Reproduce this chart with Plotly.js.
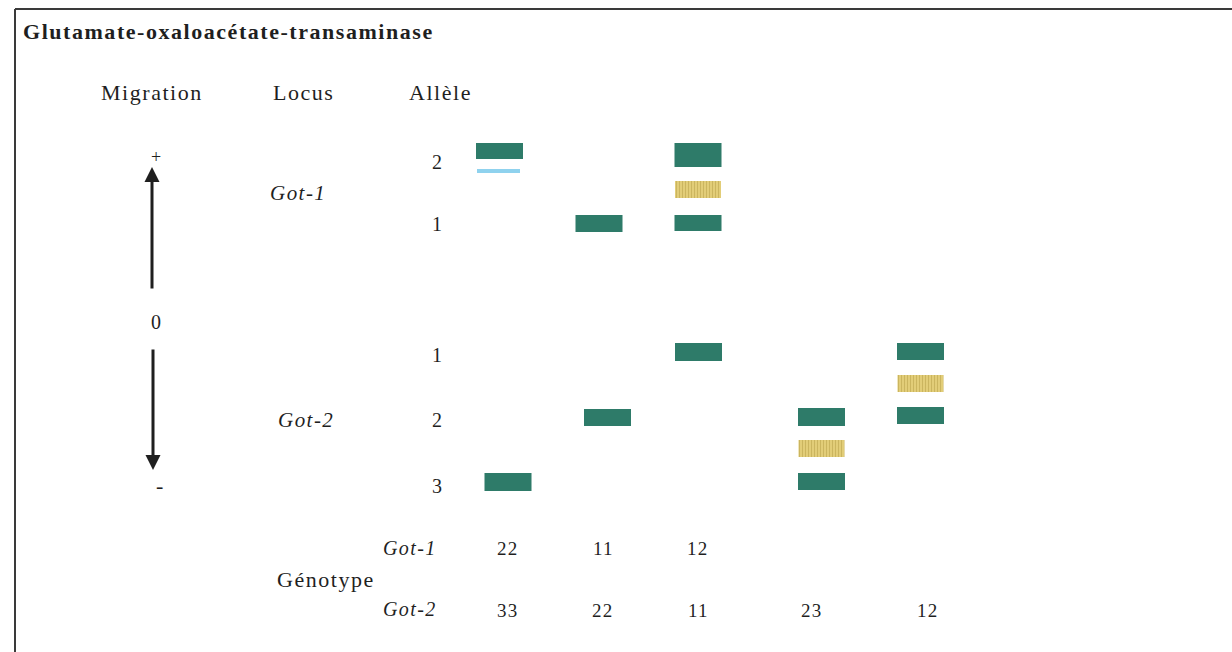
<!DOCTYPE html>
<html>
<head>
<meta charset="utf-8">
<script src="https://cdn.plot.ly/plotly-3.0.1.min.js"></script>
<style>
  html, body { margin: 0; padding: 0; background: #ffffff; }
  #chart { width: 1232px; height: 652px; }
  svg text { letter-spacing: 0.07em; }
</style>
</head>
<body>
<div id="chart"></div>
<script>
// ---- Data ----
const chartTitle = "Glutamate-oxaloacétate-transaminase";
const headerLabels = ["Migration", "Locus", "Allèle"];
const headerX = [152, 303, 440];

// Allele ladder (label, vertical position)
const alleleLabels = ["2", "1", "1", "2", "3"];
const alleleY = [162, 224, 355, 420, 486];

// Locus names and positions
const locusNames = ["Got-1", "Got-2"];
const locusX = [298, 306];
const locusY = [193, 420];

// Homodimer bands (dark green): lane centre, top edge, thickness
const homoX = [499.5, 599, 698, 698, 508, 607.5, 698.5, 821.5, 821.5, 920.5, 920.5];
const homoTop = [143, 215, 143, 215, 473, 409, 343, 408, 473, 343, 407];
const homoH = [16, 17, 24, 16, 18, 17, 18, 18, 17, 17, 17];

// Heterodimer bands (yellow)
const heteroX = [698, 821.5, 920.5];
const heteroTop = [181, 440, 375];
const heteroH = [17, 17, 17];

// Faint band (light blue)
const faintX = [498.5];
const faintTop = [169];
const faintH = [4];

// Genotypes
const genoX1 = [508, 603, 698];
const got1Genotypes = ["22", "11", "12"];
const genoX2 = [508, 603, 698, 812, 928];
const got2Genotypes = ["33", "22", "11", "23", "12"];

// ---- Drawing ----
const serif = "Liberation Serif, Times New Roman, serif";
const ink = "#1f1f1f";

const traces = [
  {type: "bar", x: homoX, y: homoH, base: homoTop, width: 47,
   marker: {color: "#2e7b69", line: {width: 0}}, hoverinfo: "skip", showlegend: false},
  {type: "bar", x: heteroX, y: heteroH, base: heteroTop, width: 46,
   marker: {color: "#e2cd78", line: {width: 0},
            pattern: {shape: "|", fgcolor: "#b09640", size: 3, solidity: 0.3, fillmode: "overlay"}},
   hoverinfo: "skip", showlegend: false},
  {type: "bar", x: faintX, y: faintH, base: faintTop, width: 43,
   marker: {color: "#8fd2ee", line: {width: 0}}, hoverinfo: "skip", showlegend: false}
];

function txt(x, y, text, size, opts) {
  return Object.assign({
    x: x, y: y, xref: "x", yref: "y", text: text, showarrow: false,
    xanchor: "center", yanchor: "middle",
    font: {family: serif, size: size, color: ink}
  }, opts || {});
}

const annotations = [];
annotations.push(txt(21, 31, "<b>" + chartTitle + "</b>", 22, {xanchor: "left"}));
headerLabels.forEach((t, i) => annotations.push(txt(headerX[i], 92, t, 22)));
alleleLabels.forEach((t, i) => annotations.push(txt(437, alleleY[i], t, 20)));
locusNames.forEach((t, i) => annotations.push(txt(locusX[i], locusY[i], "<i>" + t + "</i>", 21)));

// Migration arrows and signs
annotations.push(txt(156, 157, "+", 18));
annotations.push(txt(156, 322, "0", 20));
annotations.push(txt(160, 485, "-", 22));
annotations.push({x: 152, y: 167, ax: 152, ay: 290, xref: "x", yref: "y", axref: "x", ayref: "y",
  text: "", showarrow: true, arrowhead: 2, arrowsize: 1, arrowwidth: 3, arrowcolor: ink});
annotations.push({x: 153, y: 470, ax: 153, ay: 348, xref: "x", yref: "y", axref: "x", ayref: "y",
  text: "", showarrow: true, arrowhead: 2, arrowsize: 1, arrowwidth: 3, arrowcolor: ink});

// Genotype table
annotations.push(txt(410, 548, "<i>Got-1</i>", 20));
annotations.push(txt(326, 579, "Génotype", 22));
annotations.push(txt(410, 609, "<i>Got-2</i>", 20));
got1Genotypes.forEach((t, i) => annotations.push(txt(genoX1[i], 548, t, 19)));
got2Genotypes.forEach((t, i) => annotations.push(txt(genoX2[i], 610, t, 19)));

const layout = {
  width: 1232, height: 652,
  margin: {l: 0, r: 0, t: 0, b: 0},
  paper_bgcolor: "#ffffff", plot_bgcolor: "#ffffff",
  barmode: "overlay",
  xaxis: {range: [0, 1232], visible: false, fixedrange: true},
  yaxis: {range: [652, 0], visible: false, fixedrange: true},
  showlegend: false,
  annotations: annotations,
  shapes: [
    {type: "line", xref: "x", yref: "y", x0: 15, x1: 1240, y0: 9, y1: 9, line: {color: "#3a3a3a", width: 2}},
    {type: "line", xref: "x", yref: "y", x0: 15, x1: 15, y0: 9, y1: 660, line: {color: "#3a3a3a", width: 2}}
  ]
};

Plotly.newPlot("chart", traces, layout, {staticPlot: true, displayModeBar: false});
</script>
</body>
</html>
